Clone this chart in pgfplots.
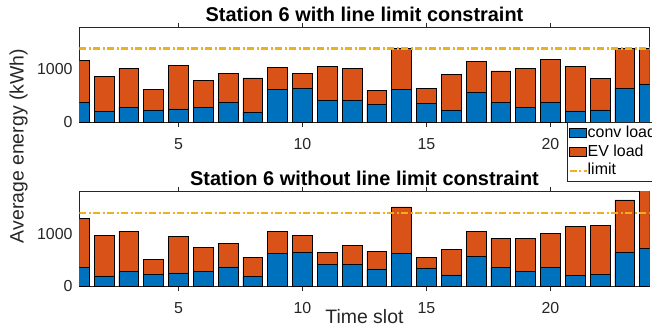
\documentclass[border=0pt]{standalone}
\usepackage{pgfplots}
\pgfplotsset{compat=1.18}
\usepackage{pgfplotstable}
\usepackage{fontspec}
\setmainfont{Liberation Sans}
\definecolor{convc}{RGB}{0,114,189}
\definecolor{evc}{RGB}{217,83,25}
\definecolor{limc}{RGB}{237,177,32}
\definecolor{axc}{RGB}{38,38,38}

% slot, total load (conv + EV), conv load
\pgfplotstableread{
slot total conv
1  1179 365
2  872  199
3  1019 282
4  628  224
5  1077 250
6  788  282
7  923  378
8  840  186
9  1032 622
10 923  647
11 1064 417
12 1019 414
13 603  333
14 1400 622
15 647  346
16 904  218
17 1147 564
18 974  365
19 1013 282
20 1186 372
21 1051 212
22 833  231
23 1400 641
24 1400 724
}\withlimit
\pgfplotstableread{
slot total conv
1  1294 363
2  975  198
3  1052 287
4  504  223
5  956  255
6  739  287
7  816  370
8  554  185
9  1039 625
10 975  650
11 644  414
12 778  411
13 663  331
14 1511 625
15 548  351
16 695  217
17 1052 561
18 911  363
19 918  287
20 1007 363
21 1134 210
22 1160 229
23 1644 644
24 1850 727
}\withoutlimit

\pgfplotsset{
  stationaxis/.style={
    scale only axis, width=570.3bp,
    xmin=1, xmax=24, ymin=0, ymax=1800,
    xtick={5,10,15,20}, ytick={0,1000},
    tick align=inside, major tick length=5bp,
    axis line style={axc, line width=0.6bp},
    every tick/.style={axc, line width=0.6bp},
    tick label style={font=\fontsize{16}{18}\selectfont, text=axc},
    /pgf/number format/assume math mode=true,
    /pgf/number format/set thousands separator={},
    xticklabel style={anchor=base, yshift=-22bp, inner sep=0pt},
    yticklabel style={anchor=east, xshift=-6.6bp, inner sep=0pt},
    title style={font=\bfseries\fontsize{20}{24}\selectfont, at={(0.5,1)}, anchor=base, inner sep=0pt},
    ybar, bar width=0.8,
  },
  evbar/.style={fill=evc, draw=black, line width=0.7bp, bar shift=0pt},
  convbar/.style={fill=convc, draw=black, line width=0.7bp, bar shift=0pt},
  limline/.style={sharp plot, limc, line width=2.2bp, dash pattern=on 7bp off 2.5bp on 2bp off 2.5bp, mark=none},
  barimg/.style={legend image code/.code={\draw[##1] (0bp,-4.5bp) rectangle (17bp,4.5bp);}},
  lineimg/.style={legend image code/.code={\draw[##1] (0bp,0bp) -- (17bp,0bp);}},
}

\begin{document}
\begin{tikzpicture}
\begin{axis}[stationaxis, height=94.5bp,
  at={(79.3bp,-122bp)}, anchor=south west,
  title={Station 6 with line limit constraint},
  ylabel={Average energy (kWh)},
  ylabel style={font=\fontsize{19.5}{22}\selectfont, text=axc, at={(axis description cs:-0.0978,-0.254)}, anchor=base, inner sep=0pt},
  legend style={at={(axis description cs:0.8546,0)}, anchor=north west,
    draw=axc, line width=0.6bp, fill=white, font=\fontsize{16}{18}\selectfont,
    inner xsep=1.5bp, inner ysep=3bp, row sep=2.7bp,
    nodes={inner sep=0pt, text height=12bp, text depth=4bp}},
  legend cell align=left,
]
\addplot[evbar, forget plot] table[x=slot, y=total] {\withlimit};
\addplot[convbar, barimg] table[x=slot, y=conv] {\withlimit};
\addlegendentry{conv load}
\addlegendimage{evbar, barimg}
\addlegendentry{EV load}
\addplot[limline, lineimg] coordinates {(1,1400) (24,1400)};
\addlegendentry{limit}
\end{axis}

\begin{axis}[stationaxis, height=94.6bp,
  at={(79.3bp,-286.3bp)}, anchor=south west,
  title={Station 6 without line limit constraint},
  xlabel={Time slot},
  xlabel style={font=\fontsize{19.5}{22}\selectfont, text=axc, at={(axis description cs:0.5,0)}, anchor=base, yshift=-37bp, inner sep=0pt},
]
\addplot[evbar] table[x=slot, y=total] {\withoutlimit};
\addplot[convbar] table[x=slot, y=conv] {\withoutlimit};
\addplot[limline] coordinates {(1,1400) (24,1400)};
\end{axis}
\pgfresetboundingbox
\path[use as bounding box] (0bp,0bp) rectangle (652bp,-327bp);
\end{tikzpicture}
\end{document}
